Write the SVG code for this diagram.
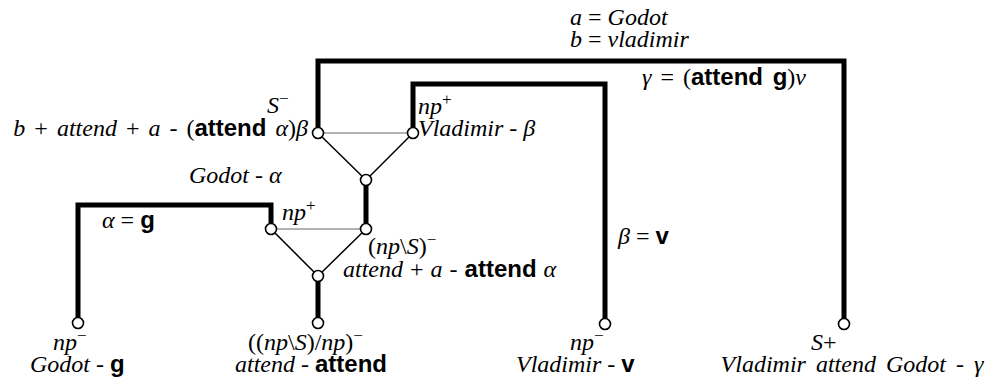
<svg xmlns="http://www.w3.org/2000/svg" width="1008" height="383" viewBox="0 0 1008 383">
<style>
text{font-family:"Liberation Serif","Times New Roman",serif;font-size:24px;fill:#000}
.i{font-style:italic}
.b{font-family:"Liberation Sans",Arial,sans-serif;font-weight:bold;font-style:normal}
.sup{font-size:17px}
.thick{fill:none;stroke:#000;stroke-width:5}
.thin{fill:none;stroke:#000;stroke-width:1.5}
.hair{fill:none;stroke:#666;stroke-width:1}
.node{fill:#fff;stroke:#000;stroke-width:1.6}
</style>
<rect width="1008" height="383" fill="#fff"/>
<g id="connectors">
<path class="thick" d="M318,133 V61 H844 V324"/>
<path class="thick" d="M413,133 V84 H605 V324"/>
<path class="thick" d="M78,323 V205 H271 V229"/>
<path class="thick" d="M366,180 V229"/>
<path class="thick" d="M318,276 V323"/>
<path class="hair" d="M318,133 H413"/>
<path class="hair" d="M271,229 H366"/>
<path class="thin" d="M318,133 L366,180 L413,133"/>
<path class="thin" d="M271,229 L318,276 L366,229"/>
</g>
<g id="labels">
<text x="570" y="25"><tspan class="i">a</tspan> = <tspan class="i">Godot</tspan></text>
<text x="570" y="47"><tspan class="i">b</tspan> = <tspan class="i">vladimir</tspan></text>
<text x="642" y="85" word-spacing="3"><tspan class="i">γ</tspan> = (<tspan class="b">attend g</tspan>)<tspan class="i">v</tspan></text>
<text x="102" y="228"><tspan class="i">α</tspan> = <tspan class="b">g</tspan></text>
<text x="618" y="244"><tspan class="i">β</tspan> = <tspan class="b">v</tspan></text>
<text x="189" y="183"><tspan class="i">Godot</tspan> - <tspan class="i">α</tspan></text>
</g>
<g id="node-S-minus">
<circle class="node" cx="318" cy="133" r="5.5"/>
<text x="267" y="113"><tspan class="i">S</tspan><tspan class="sup" dy="-9">−</tspan></text>
<text x="308" y="136" text-anchor="end" word-spacing="3"><tspan class="i">b</tspan> + <tspan class="i">attend</tspan> + <tspan class="i">a</tspan> - (<tspan class="b">attend</tspan> <tspan class="i">α</tspan>)<tspan class="i">β</tspan></text>
</g>
<g id="node-np-plus-vladimir">
<circle class="node" cx="413" cy="133" r="5.5"/>
<text x="418" y="114"><tspan class="i">np</tspan><tspan class="sup" dy="-9">+</tspan></text>
<text x="418" y="136"><tspan class="i">Vladimir</tspan> - <tspan class="i">β</tspan></text>
</g>
<g id="node-mid">
<circle class="node" cx="366" cy="180" r="5.5"/>
</g>
<g id="node-np-plus-godot">
<circle class="node" cx="271" cy="229" r="5.5"/>
<text x="282" y="220"><tspan class="i">np</tspan><tspan class="sup" dy="-9">+</tspan></text>
</g>
<g id="node-npS-minus">
<circle class="node" cx="366" cy="229" r="5.5"/>
<text x="368" y="254">(<tspan class="i">np</tspan>\<tspan class="i">S</tspan>)<tspan class="sup" dy="-9">−</tspan></text>
<text x="343" y="277" word-spacing="1"><tspan class="i">attend</tspan> + <tspan class="i">a</tspan> - <tspan class="b">attend</tspan> <tspan class="i">α</tspan></text>
</g>
<g id="node-low">
<circle class="node" cx="318" cy="276" r="5.5"/>
</g>
<g id="node-attend">
<circle class="node" cx="318" cy="323" r="5.5"/>
<text x="248" y="350">((<tspan class="i">np</tspan>\<tspan class="i">S</tspan>)/<tspan class="i">np</tspan>)<tspan class="sup" dy="-9">−</tspan></text>
<text x="235" y="372"><tspan class="i">attend</tspan> - <tspan class="b">attend</tspan></text>
</g>
<g id="node-godot">
<circle class="node" cx="78" cy="323" r="5.5"/>
<text x="53" y="350"><tspan class="i">np</tspan><tspan class="sup" dy="-9">−</tspan></text>
<text x="30" y="372"><tspan class="i">Godot</tspan> - <tspan class="b">g</tspan></text>
</g>
<g id="node-vladimir">
<circle class="node" cx="605" cy="324" r="5.5"/>
<text x="570" y="350"><tspan class="i">np</tspan><tspan class="sup" dy="-9">−</tspan></text>
<text x="516" y="372"><tspan class="i">Vladimir</tspan> - <tspan class="b">v</tspan></text>
</g>
<g id="node-S-plus">
<circle class="node" cx="844" cy="324" r="5.5"/>
<text x="811" y="350"><tspan class="i">S</tspan>+</text>
<text x="852" y="372" text-anchor="middle" word-spacing="4"><tspan class="i">Vladimir attend Godot</tspan> - <tspan class="i">γ</tspan></text>
</g>
</svg>
